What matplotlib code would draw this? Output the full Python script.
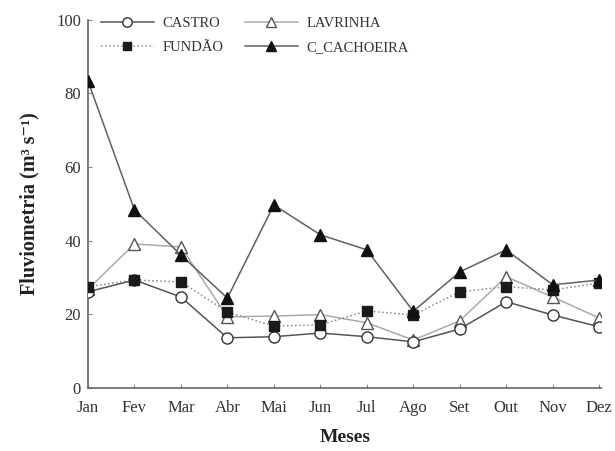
"""Fluviometria mensal por estação."""
import matplotlib
matplotlib.use("Agg")
import matplotlib.pyplot as plt
import numpy as np

meses = ["Jan", "Fev", "Mar", "Abr", "Mai", "Jun", "Jul", "Ago", "Set", "Out", "Nov", "Dez"]
castro = [26.1, 29.3, 24.7, 13.6, 13.9, 14.9, 13.9, 12.5, 16.0, 23.4, 19.8, 16.6]
lavrinha = [26.8, 39.1, 38.3, 19.3, 19.5, 19.9, 17.7, 13.0, 18.2, 30.2, 24.7, 19.0]
fundao = [27.5, 29.3, 28.8, 20.6, 16.8, 17.1, 20.9, 19.8, 26.1, 27.5, 26.6, 28.5]
cachoeira = [83.4, 48.4, 36.1, 24.4, 49.7, 41.6, 37.5, 20.8, 31.5, 37.5, 28.0, 29.3]

plt.rcParams["font.family"] = ["Liberation Serif", "DejaVu Serif"]

x = np.arange(len(meses))

fig = plt.figure(figsize=(6.15, 4.51), dpi=100)
ax = fig.add_axes([0.143, 0.14, 0.835, 0.816])

ms = 8
ax.plot(x, castro, "-", color="#555555", lw=1.1, marker="o", ms=ms,
        mfc="white", mec="#333333", mew=1.0, label="CASTRO", zorder=3)
ax.plot(x, lavrinha, "-", color="#aaaaaa", lw=1.1, marker="^", ms=ms,
        mfc="white", mec="#555555", mew=1.0, label="LAVRINHA", zorder=2)
ax.plot(x, fundao, ":", color="#888888", lw=1.1, marker="s", ms=ms - 0.5,
        mfc="#1a1a1a", mec="#1a1a1a", label="FUNDÃO", zorder=4)
ax.plot(x, cachoeira, "-", color="#606060", lw=1.1, marker="^", ms=ms,
        mfc="#111111", mec="#111111", label="C_CACHOEIRA", zorder=5)

ax.set_xlim(0, 11.05)
ax.set_ylim(0, 100)
ax.set_xticks(x)
ax.set_xticklabels(meses)
ax.set_yticks(np.arange(0, 101, 20))
ax.tick_params(axis="both", labelsize=12, length=3, width=0.8,
               color="#888888", labelcolor="#333333", direction="in")
ax.tick_params(axis="x", pad=9)
ax.tick_params(axis="y", pad=5)

for s in ["top", "right"]:
    ax.spines[s].set_visible(False)
for s in ["left", "bottom"]:
    ax.spines[s].set_color("#666666")
    ax.spines[s].set_linewidth(1.2)

ax.set_xlabel("Meses", fontsize=14, fontweight="bold", color="#222222", labelpad=9)
ax.set_ylabel("Fluviometria (m³ s⁻¹)", fontsize=14.5, fontweight="bold",
              color="#222222", labelpad=12)

h, l = ax.get_legend_handles_labels()
order = [0, 2, 1, 3]
ax.legend([h[i] for i in order], [l[i] for i in order], ncol=2, frameon=False,
          loc="upper left", bbox_to_anchor=(0.0, 1.045), fontsize=10.5,
          handlelength=3.6, handletextpad=0.6, columnspacing=1.5,
          labelspacing=0.75, labelcolor="#333333", markerscale=0.85)

fig.savefig("out.png", dpi=100)
